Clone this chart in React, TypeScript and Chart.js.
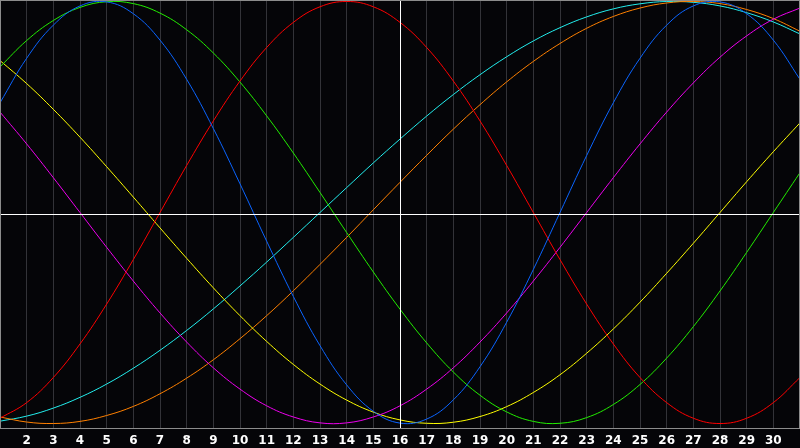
import React, { useEffect, useRef } from "react";
import { Chart, registerables } from "chart.js";

Chart.register(...registerables);

const days = [1, 2, 3, 4, 5, 6, 7, 8, 9, 10, 11, 12, 13, 14, 15, 16, 17, 18, 19, 20, 21, 22, 23, 24, 25, 26, 27, 28, 29, 30, 31];

const physical = [0.52, 0.731, 0.888, 0.979, 0.998, 0.942, 0.817, 0.631, 0.398, 0.136, -0.136, -0.398, -0.631, -0.817, -0.942, -0.998, -0.979, -0.888, -0.731, -0.52, -0.27, 0, 0.27, 0.52, 0.731, 0.888, 0.979, 0.998, 0.942, 0.817, 0.631];
const emotional = [-0.975, -0.901, -0.782, -0.623, -0.434, -0.223, 0, 0.223, 0.434, 0.623, 0.782, 0.901, 0.975, 1, 0.975, 0.901, 0.782, 0.623, 0.434, 0.223, 0, -0.223, -0.434, -0.623, -0.782, -0.901, -0.975, -1, -0.975, -0.901, -0.782];
const intellectual = [0.69, 0.815, 0.91, 0.972, 0.999, 0.99, 0.945, 0.866, 0.756, 0.618, 0.458, 0.282, 0.095, -0.095, -0.282, -0.458, -0.618, -0.756, -0.866, -0.945, -0.99, -0.999, -0.972, -0.91, -0.815, -0.69, -0.541, -0.372, -0.189, 0, 0.189];
const intuitive = [0.476, 0.325, 0.165, 0, -0.165, -0.325, -0.476, -0.614, -0.736, -0.837, -0.916, -0.969, -0.997, -0.997, -0.969, -0.916, -0.837, -0.736, -0.614, -0.476, -0.325, -0.165, 0, 0.165, 0.325, 0.476, 0.614, 0.736, 0.837, 0.916, 0.969];
const aesthetic = [0.72, 0.611, 0.489, 0.357, 0.217, 0.073, -0.073, -0.217, -0.357, -0.489, -0.611, -0.72, -0.813, -0.889, -0.946, -0.983, -0.999, -0.994, -0.967, -0.92, -0.853, -0.769, -0.667, -0.552, -0.425, -0.288, -0.146, 0, 0.146, 0.288, 0.425];
const awareness = [-0.969, -0.993, -1, -0.99, -0.962, -0.919, -0.859, -0.785, -0.698, -0.598, -0.489, -0.371, -0.246, -0.118, 0.013, 0.143, 0.271, 0.395, 0.511, 0.619, 0.716, 0.801, 0.873, 0.929, 0.969, 0.993, 1, 0.99, 0.962, 0.919, 0.859];
const spiritual = [-0.989, -0.965, -0.927, -0.876, -0.813, -0.738, -0.653, -0.559, -0.457, -0.348, -0.235, -0.118, 0, 0.118, 0.235, 0.348, 0.457, 0.559, 0.653, 0.738, 0.813, 0.876, 0.927, 0.965, 0.989, 1, 0.996, 0.979, 0.947, 0.903, 0.846];

const seriesNames = ["Physical", "Emotional", "Intellectual", "Intuitive", "Aesthetic", "Awareness", "Spiritual"];
const seriesColors = ["#0a64ff", "#ff0000", "#22ee00", "#ee00ee", "#ffff00", "#ff8000", "#22eeee"];

const BG = "#050508";

const framePlugin = {
  id: "frameCross",
  beforeDraw(chart: any) {
    const ctx = chart.ctx;
    ctx.save();
    ctx.fillStyle = BG;
    ctx.fillRect(0, 0, chart.width, chart.height);
    ctx.restore();
  },
  afterDatasetsDraw(chart: any) {
    const { ctx, chartArea } = chart;
    const { left, right, top, bottom } = chartArea;
    ctx.save();
    ctx.lineWidth = 1;
    const cx = Math.round((left + right) / 2) + 0.5;
    const cy = Math.round((top + bottom) / 2) + 0.5;
    ctx.strokeStyle = "#ffffff";
    ctx.beginPath();
    ctx.moveTo(cx, top);
    ctx.lineTo(cx, bottom);
    ctx.moveTo(left, cy);
    ctx.lineTo(right, cy);
    ctx.stroke();
    ctx.strokeStyle = "#8c8c8c";
    ctx.strokeRect(left + 0.5, top + 0.5, right - left - 1, bottom - top);
    ctx.restore();
  },
};

export default function App() {
  const canvasRef = useRef<HTMLCanvasElement | null>(null);

  useEffect(() => {
    const canvas = canvasRef.current;
    if (!canvas) return;
    const values = [physical, emotional, intellectual, intuitive, aesthetic, awareness, spiritual];
    const labels = days.map((d) => String(d));
    const chart = new Chart(canvas, {
      type: "line",
      data: {
        labels,
        datasets: values.map((v, i) => ({
          label: seriesNames[i],
          data: v,
          borderColor: seriesColors[i],
          backgroundColor: seriesColors[i],
          borderWidth: 1,
          pointRadius: 0,
          pointHoverRadius: 0,
          tension: 0.4,
          fill: false,
        })),
      },
      options: {
        animation: false,
        responsive: false,
        maintainAspectRatio: false,
        layout: { padding: 0, autoPadding: false },
        plugins: {
          legend: { display: false },
          tooltip: { enabled: false },
        },
        scales: {
          x: {
            type: "category",
            offset: false,
            afterFit: (scale: any) => {
              scale.height = 20;
              scale.paddingLeft = 0;
              scale.paddingRight = 0;
            },
            grid: {
              display: true,
              drawTicks: false,
              color: (c: any) => (c.index === 0 || c.index === days.length - 1 ? "rgba(0,0,0,0)" : "#333338"),
              lineWidth: 1,
            },
            border: { display: false },
            ticks: {
              autoSkip: false,
              maxRotation: 0,
              minRotation: 0,
              padding: 6,
              color: "#ffffff",
              font: { family: "'DejaVu Sans', 'Liberation Sans', sans-serif", size: 12, weight: "bold" },
              callback: (_v: any, index: number) =>
                index === 0 || index === days.length - 1 ? "" : labels[index],
            },
          },
          y: {
            display: false,
            min: -1.0213,
            max: 1.0071,
          },
        },
      },
      plugins: [framePlugin],
    } as any);
    return () => chart.destroy();
  }, []);

  return (
    <div style={{ position: "fixed", left: 0, top: 0, width: 800, height: 448, background: BG }}>
      <canvas ref={canvasRef} width={800} height={448} style={{ display: "block", width: 800, height: 448 }} />
    </div>
  );
}
